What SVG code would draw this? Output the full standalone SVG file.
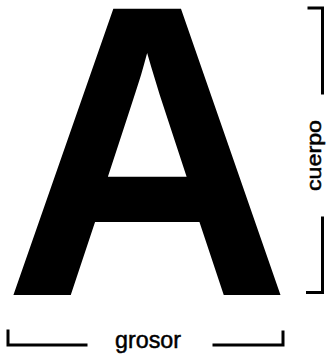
<svg xmlns="http://www.w3.org/2000/svg" width="330" height="356" viewBox="0 0 330 356">
<style>
.br{fill:none;stroke:#000;stroke-width:3;stroke-linecap:square;stroke-linejoin:miter}
.lbl{font-family:"Liberation Sans",Arial,sans-serif;fill:#000}
.sm{stroke:#000;stroke-width:0.5}
</style>
<rect width="330" height="356" fill="#fff"/>
<g id="letterA">
<text class="lbl" transform="translate(3.5,295) scale(0.957,1)" x="0" y="0" font-size="416" font-weight="bold">A</text>
</g>
<g id="connectors">
<path class="br" d="M309,8 H322.5 V93"/>
<path class="br" d="M322.5,218 V292.5 H307.5"/>
<path class="br" d="M8,331 V345 H86"/>
<path class="br" d="M214,345 H283 V332"/>
</g>
<g id="cuerpo">
<text class="lbl sm" transform="translate(321,155.5) rotate(-90)" text-anchor="middle" font-size="20" textLength="71" lengthAdjust="spacingAndGlyphs">cuerpo</text>
</g>
<g id="grosor">
<text class="lbl sm" x="115" y="348" font-size="24" textLength="66" lengthAdjust="spacingAndGlyphs">grosor</text>
</g>
</svg>
